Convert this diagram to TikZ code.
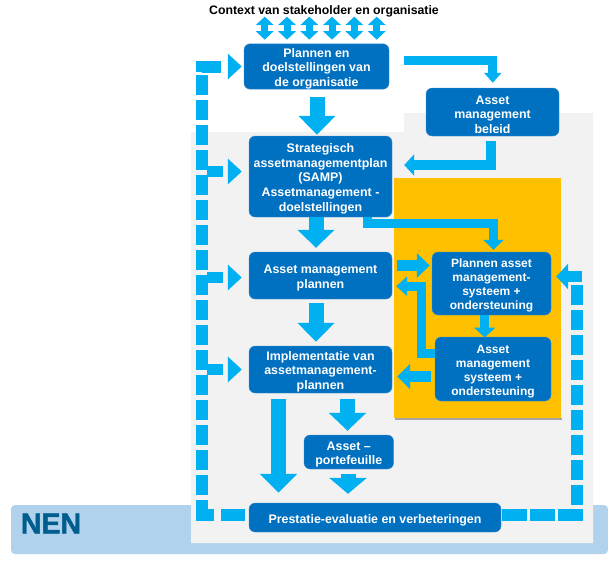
\documentclass[tikz,border=0pt]{standalone}
\usepackage{fontspec}
\setmainfont{Liberation Sans}
\newfontfamily\nenfont[FakeBold=1.5]{Liberation Sans Bold}
\usetikzlibrary{arrows.meta}
\definecolor{boxc}{HTML}{0070C0}
\definecolor{arrowc}{HTML}{00B0F0}
\definecolor{bandc}{HTML}{B0D2EC}
\definecolor{grayc}{HTML}{F2F2F2}
\definecolor{orangec}{HTML}{FFC000}
\definecolor{nenc}{HTML}{005E8E}
\newcommand{\firstline}{\rule{0pt}{13.5pt}}
\tikzset{
  box/.style={rectangle,rounded corners=6pt,fill=boxc,draw=boxc!75!white,line width=.4pt,text=white,
    inner sep=0pt,align=center,font=\fontsize{12.4}{14.6}\selectfont\bfseries},
  smallbox/.style={box,font=\fontsize{12}{14}\selectfont\bfseries},
  blk/.style n args={3}{draw=arrowc,line width=#1,line join=miter,
    -{Triangle[length=#2,width=#3]}},
  dbl/.style={draw=arrowc,line width=7pt,
    {Triangle[length=8.5pt,width=17.5pt]}-{Triangle[length=8.5pt,width=17.5pt]}},
}
\begin{document}
\begin{tikzpicture}[x=1pt,y=-1pt]
\useasboundingbox (0,0) rectangle (608,565);
% backgrounds
\fill[bandc,rounded corners=4pt] (11,505) -- (608,505) -- (608,554) -- (11,554) -- cycle;
\fill[grayc] (191,132) -- (404,132) -- (404,113) -- (593,113) -- (593,543) -- (191,543) -- cycle;
\fill[black!35] (395,418) rectangle (562,419.5);
\fill[orangec] (394,178) rectangle (561,418);
\node[text=nenc,font=\fontsize{28.5}{30}\selectfont\nenfont,inner sep=0pt] (nen) at (51,523.5) {NEN};
\node[font=\fontsize{12.3}{14}\selectfont\bfseries,inner sep=0pt] (ctx) at (324,11) {Context van stakeholder en organisatie};
% boxes
\node[box,minimum width=145pt,minimum height=45pt] (plan) at (316.5,66.5) {\firstline Plannen en\\doelstellingen van\\de organisatie};
\node[box,minimum width=143pt,minimum height=81pt] (samp) at (320.5,176.5) {\firstline Strategisch\\assetmanagementplan\\(SAMP)\\Assetmanagement -\\doelstellingen};
\node[box,minimum width=143pt,minimum height=47pt] (amp) at (320.5,275.5) {\firstline Asset management\\plannen};
\node[box,minimum width=143pt,minimum height=47pt] (impl) at (320.5,369.5) {\firstline Implementatie van\\assetmanagement-\\plannen};
\node[box,minimum width=89.5pt,minimum height=34pt] (port) at (348.75,452) {\firstline Asset –\\portefeuille};
\node[box,minimum width=252pt,minimum height=29pt] (prest) at (375,517.5) {\rule{0pt}{14pt}Prestatie-evaluatie en verbeteringen};
\node[box,minimum width=133pt,minimum height=48pt] (bel) at (492.5,112) {\firstline Asset\\management\\beleid};
\node[smallbox,minimum width=119pt,minimum height=63pt] (pas) at (491.5,283.5) {\firstline Plannen asset\\management-\\systeem +\\ondersteuning};
\node[smallbox,minimum width=116pt,minimum height=64pt] (ams) at (493,369) {\firstline Asset\\management\\systeem +\\ondersteuning};
% context arrows
\foreach \dx in {-51.8,-29.5,-7.2,15.5,37.8,60.2}
  \draw[dbl] ([xshift=\dx pt,yshift=4pt]plan.north) -- ([xshift=\dx pt,yshift=27pt]plan.north);
% main column
\draw[blk={15pt}{19pt}{36pt}] ([xshift=.5pt,yshift=-8pt]plan.south) -- ([xshift=-3.5pt,yshift=1pt]samp.north);
\draw[blk={15pt}{18pt}{36pt}] ([xshift=-4.5pt]samp.south) -- ([xshift=-4.5pt,yshift=4pt]amp.north);
\draw[blk={15pt}{19pt}{36pt}] ([xshift=-4.5pt,yshift=-4pt]amp.south) -- ([xshift=-4.5pt,yshift=4pt]impl.north);
\draw[blk={15pt}{18pt}{36.5pt}] ([xshift=27pt,yshift=-6pt]impl.south) -- ([xshift=-1.25pt,yshift=4pt]port.north);
\draw[blk={15.5pt}{19pt}{36.5pt}] ([xshift=-42pt,yshift=-6pt]impl.south) -- ([xshift=-96.5pt,yshift=10pt]prest.north);
\draw[blk={15pt}{16pt}{37pt}] ([xshift=-.75pt,yshift=-5pt]port.south) -- ([xshift=-27pt,yshift=9pt]prest.north);
% upper right elbows
\coordinate (e1) at (492.8,60.3);
\coordinate (e2) at (404,60.3);
\draw[blk={8.7pt}{10pt}{17pt}] (e2) -- (e1) -- ([xshift=.3pt,yshift=5pt]bel.north);
\coordinate (e3) at (490.8,165);
\draw[blk={9.7pt}{10pt}{21pt}] ([xshift=-1.7pt,yshift=-5pt]bel.south) -- (e3) -- ([xshift=12pt,yshift=11.5pt]samp.east);
\coordinate (e4) at (367,223.5);
\coordinate (e5) at (493.5,223.5);
\draw[blk={9pt}{10pt}{20pt}] (e4 |- samp.south) -- (e4) -- (e5) -- ([xshift=2pt,yshift=2pt]pas.north);
% orange block arrows
\draw[blk={11pt}{13pt}{24pt}] ([xshift=5pt,yshift=10pt]amp.east) -- ([xshift=-2pt,yshift=18pt]pas.west);
\coordinate (e6) at (421,353);
\coordinate (e7) at (421,286.2);
\draw[blk={9pt}{11pt}{19pt}] ([yshift=16pt]ams.west) -- (e6) -- (e7) -- ([xshift=4pt,yshift=-10.7pt]amp.east);
\draw[blk={11pt}{13pt}{25pt}] ([xshift=-4pt,yshift=-7.5pt]ams.west) -- ([xshift=5pt,yshift=-7pt]impl.east);
\draw[blk={9pt}{10pt}{21pt}] ([xshift=-6.8pt]pas.south) -- ([xshift=-8.3pt,yshift=-.7pt]ams.north);
% dashed feedback loops
\coordinate (ltop) at (202,66.5);
\draw[blk={12pt}{14pt}{25pt},dash pattern=on 24pt off 7pt on 26.5pt off 5pt
  on 20pt off 5pt on 20pt off 5pt on 20pt off 5pt on 20pt off 5pt
  on 20pt off 5pt on 20pt off 5pt on 20pt off 5pt on 20pt off 5pt
  on 20pt off 5pt on 20pt off 5pt on 20pt off 5pt on 20pt off 5pt
  on 20pt off 5pt on 20pt off 5pt on 20pt off 5pt on 20pt off 5pt
  on 20pt off 3pt on 24.5pt off 100pt]
  ([xshift=-4pt,yshift=3pt]prest.west) -| (ltop) -- ([xshift=-2pt]plan.west);
\coordinate (b1) at (207,171.5);
\coordinate (b2) at (207,277.5);
\coordinate (b3) at (207,369.5);
\draw[blk={11pt}{14pt}{25pt},dash pattern=on 16pt off 50pt] (b1) -- ([xshift=-7pt,yshift=5pt]samp.west);
\draw[blk={11pt}{14pt}{25pt},dash pattern=on 16pt off 50pt] (b2) -- ([xshift=-7pt,yshift=-2pt]amp.west);
\draw[blk={11pt}{14pt}{25pt},dash pattern=on 16pt off 50pt] (b3) -- ([xshift=-7pt]impl.west);
\coordinate (rtop) at (577,285);
\draw[draw=arrowc,line width=12pt,line join=miter,dash pattern=on 25pt off 3pt on 25pt off 3pt on 24.5pt off 4pt
  on 20pt off 5pt on 20pt off 5pt on 20pt off 5pt on 20pt off 5pt on 20pt off 5pt
  on 20pt off 5pt on 20pt off 5pt on 20pt off 5pt on 20pt off 100pt]
  ([xshift=1pt,yshift=3pt]prest.east) -| (rtop);
\draw[blk={11pt}{12pt}{25pt}] ([xshift=31pt,yshift=7pt]pas.east) -- ([xshift=5pt,yshift=7pt]pas.east);
\end{tikzpicture}
\end{document}
